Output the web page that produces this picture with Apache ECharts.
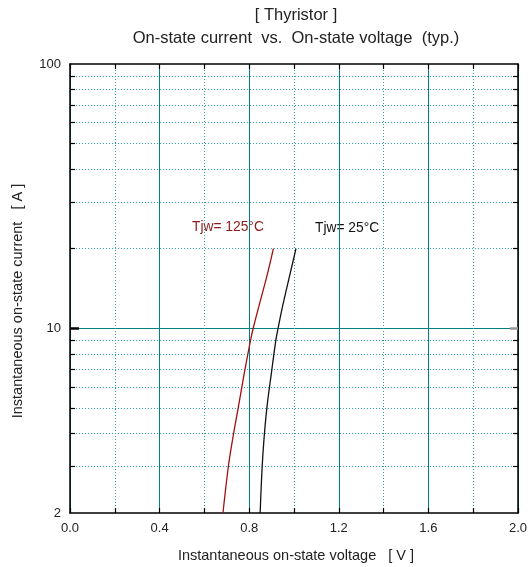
<!DOCTYPE html>
<html>
<head>
<meta charset="utf-8">
<script src="https://cdn.jsdelivr.net/npm/echarts@6/dist/echarts.min.js"></script>
<style>html,body{margin:0;padding:0;background:#fff}#c{width:530px;height:567px}</style>
</head>
<body>
<div id="c"></div>
<script>
// ---- data ----
var it125 = [2, 3, 3.8, 5.05, 6.75, 9, 10, 12, 16, 20];
var vt125 = [0.683, 0.707, 0.726, 0.752, 0.778, 0.806, 0.818, 0.842, 0.881, 0.908];
var it25  = [2, 3, 3.8, 5.0, 6.75, 9, 10, 12, 16, 20];
var vt25  = [0.849, 0.858, 0.866, 0.879, 0.899, 0.919, 0.929, 0.948, 0.982, 1.009];
var yMajorLabels = [2, 10, 100];
var yMinorTicks = [3, 4, 5, 6, 7, 8, 9, 20, 30, 40, 50, 60, 70, 80, 90];
var ySolidGrid = [10];
var xMinorStep = 0.2;
var xMajorStep = 0.4;
var titleLines = ['[ Thyristor ]', 'On-state current  vs.  On-state voltage  (typ.)'];
var xName = 'Instantaneous on-state voltage   [ V ]';
var yName = 'Instantaneous on-state current   [ A ]';
var label125 = 'Tjw= 125°C';
var label25 = 'Tjw= 25°C';

function pairs(xs, ys) { return xs.map(function (x, i) { return [x, ys[i]]; }); }

var TEAL = '#008080';
var DOT = '#2aa0a0';
var FONT = '"Liberation Sans", Arial, sans-serif';
var X0 = 0, X1 = 2, Y0 = 2, Y1 = 100;

var chart = echarts.init(document.getElementById('c'), null, { renderer: 'canvas' });

function yAx(pos, ticks, len, w, col, showLine, labels, split) {
  return {
    type: 'log', logBase: 10, min: Y0, max: Y1, position: pos, offset: 0,
    axisLine: { show: showLine, onZero: false, lineStyle: { color: '#000', width: 1.5 } },
    axisTick: { show: true, inside: true, length: len, lineStyle: { color: col, width: w }, customValues: ticks },
    axisLabel: labels ? { show: true, customValues: labels, margin: 9, color: '#222', fontSize: 13, fontFamily: FONT,
      formatter: function (v) { return String(Math.round(v)); } } : { show: false },
    splitLine: split ? { show: true, lineStyle: split } : { show: false },
    minorTick: { show: false }, minorSplitLine: { show: false }
  };
}

function xAx(pos, step, showLine, showTick, showLabel, split) {
  return {
    type: 'value', min: X0, max: X1, interval: step, position: pos,
    axisLine: { show: showLine, onZero: false, lineStyle: { color: '#000', width: 1.5 } },
    axisTick: { show: showTick, inside: true, length: 5, lineStyle: { color: '#000', width: 1.2 } },
    axisLabel: showLabel ? { margin: 9, color: '#222', fontSize: 13, fontFamily: FONT, showMaxLabel: true, showMinLabel: true,
      formatter: function (v) { var r = v / xMajorStep; return Math.abs(r - Math.round(r)) < 1e-6 ? v.toFixed(1) : ''; } } : { show: false },
    splitLine: split ? { show: true, lineStyle: split } : { show: false },
    minorTick: { show: false }, minorSplitLine: { show: false }
  };
}

var dotted = { color: DOT, width: 1, type: [1, 2] };
var solid = { color: TEAL, width: 1, type: 'solid' };

var option = {
  animation: false,
  backgroundColor: '#fff',
  grid: { left: 70, right: 10, top: 64, bottom: 54 },
  xAxis: [
    xAx('bottom', xMinorStep, true, true, true, dotted),
    xAx('top', xMinorStep, true, true, false, null),
    xAx('top', xMajorStep, false, false, false, solid)
  ],
  yAxis: [
    yAx('left', yMinorTicks, 5, 1.2, '#000', true, yMajorLabels, dotted),
    yAx('left', ySolidGrid, 9, 2.5, '#000', false, null, solid),
    yAx('right', yMinorTicks, 5, 1.2, '#000', true, null, null),
    yAx('right', ySolidGrid, 8, 2.5, '#999', false, null, null)
  ],
  series: [
    { type: 'line', name: '125', xAxisIndex: 0, yAxisIndex: 0, data: pairs(vt125, it125), smooth: 0.4,
      showSymbol: false, lineStyle: { color: '#a01010', width: 1.3 }, z: 5 },
    { type: 'line', name: '25', xAxisIndex: 0, yAxisIndex: 0, data: pairs(vt25, it25), smooth: 0.4,
      showSymbol: false, lineStyle: { color: '#111', width: 1.3 }, z: 5 }
  ],
  graphic: [
    { type: 'text', x: 296, y: 15, style: { text: titleLines[0], font: '16.5px ' + FONT, fill: '#222', textAlign: 'center', textVerticalAlign: 'middle' } },
    { type: 'text', x: 296, y: 38, style: { text: titleLines[1], font: '16.5px ' + FONT, fill: '#222', textAlign: 'center', textVerticalAlign: 'middle' } },
    { type: 'text', x: 296, y: 556, style: { text: xName, font: '14.5px ' + FONT, fill: '#222', textAlign: 'center', textVerticalAlign: 'middle' } },
    { type: 'text', x: 18, y: 301, rotation: Math.PI / 2, style: { text: yName, font: '14.5px ' + FONT, fill: '#222', textAlign: 'center', textVerticalAlign: 'middle' } },
    { type: 'text', x: 192, y: 227, style: { text: label125, font: '13.8px ' + FONT, fill: '#8b1a1a', textAlign: 'left', textVerticalAlign: 'middle' } },
    { type: 'text', x: 315, y: 228, style: { text: label25, font: '13.8px ' + FONT, fill: '#111', textAlign: 'left', textVerticalAlign: 'middle' } }
  ]
};
chart.setOption(option);
</script>
</body>
</html>
